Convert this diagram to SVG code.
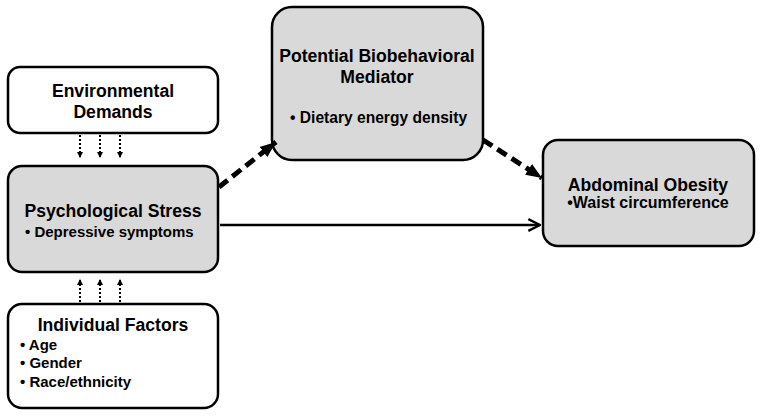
<svg xmlns="http://www.w3.org/2000/svg" width="762" height="417" viewBox="0 0 762 417">
<defs>
<style>
.box{stroke:#000;stroke-width:2.5}
.w{fill:#fff}
.g{fill:#d9d9d9}
text{font-family:"Liberation Sans",Arial,sans-serif;font-weight:bold;fill:#000}
.t{font-size:17.6px}
.s{font-size:15px}
.dot{stroke:#000;stroke-width:2;stroke-dasharray:2 2;fill:none}
.dash{stroke:#000;stroke-width:5;stroke-dasharray:11 6;fill:none}
.sol{stroke:#000;stroke-width:2.5;fill:none}
</style>
<marker id="ahs" viewBox="0 0 10 10" refX="10" refY="5" markerWidth="6" markerHeight="6" orient="auto" markerUnits="userSpaceOnUse">
<path d="M0,0 L10,5 L0,10 Z" fill="#000"/>
</marker>
<marker id="ahd" viewBox="0 0 10 10" refX="10" refY="5" markerWidth="16" markerHeight="16" orient="auto" markerUnits="userSpaceOnUse">
<path d="M0,1 L10,5 L0,9 Z" fill="#000"/>
</marker>
<marker id="aho" viewBox="0 0 12 12" refX="11" refY="6" markerWidth="14" markerHeight="14" orient="auto" markerUnits="userSpaceOnUse">
<path d="M1,1 L11,6 L1,11" fill="none" stroke="#000" stroke-width="2"/>
</marker>
</defs>
<g id="env">
<rect class="box w" x="8" y="67" width="210" height="66" rx="12"/>
<text class="t" x="113" y="97" text-anchor="middle">Environmental</text>
<text class="t" x="113" y="118" text-anchor="middle">Demands</text>
</g>
<g id="stress">
<rect class="box g" x="8" y="166" width="210" height="106" rx="14"/>
<text class="t" x="113" y="217" text-anchor="middle">Psychological Stress</text>
<text class="s" x="25" y="237">• Depressive symptoms</text>
</g>
<g id="individual">
<rect class="box w" x="8" y="304" width="210" height="104" rx="14"/>
<text class="t" x="113" y="331" text-anchor="middle">Individual Factors</text>
<text class="s" x="20" y="350">• Age</text>
<text class="s" x="20" y="368">• Gender</text>
<text class="s" x="20" y="387">• Race/ethnicity</text>
</g>
<g id="mediator">
<rect class="box g" x="272" y="7" width="211" height="153" rx="20"/>
<text class="t" x="377" y="62" text-anchor="middle">Potential Biobehavioral</text>
<text class="t" x="377" y="83" text-anchor="middle">Mediator</text>
<text class="s" x="290" y="123" style="font-size:15.6px">• Dietary energy density</text>
</g>
<g id="obesity">
<rect class="box g" x="543" y="140" width="211" height="106" rx="15"/>
<text class="t" x="648" y="191" text-anchor="middle">Abdominal Obesity</text>
<text class="s" x="648" y="208" text-anchor="middle" style="font-size:16px">•Waist circumference</text>
</g>
<g id="connectors">
<path class="dot" d="M80,135 V158" marker-end="url(#ahs)"/>
<path class="dot" d="M100,135 V158" marker-end="url(#ahs)"/>
<path class="dot" d="M120,135 V158" marker-end="url(#ahs)"/>
<path class="dot" d="M80,302 V279" marker-end="url(#ahs)"/>
<path class="dot" d="M100,302 V279" marker-end="url(#ahs)"/>
<path class="dot" d="M120,302 V279" marker-end="url(#ahs)"/>
<path class="dash" d="M219,187 L276,142" marker-end="url(#ahd)"/>
<path class="dash" d="M483,140 L542,178" marker-end="url(#ahd)"/>
<path class="sol" d="M220,225 H540" marker-end="url(#aho)"/>
</g>
</svg>
